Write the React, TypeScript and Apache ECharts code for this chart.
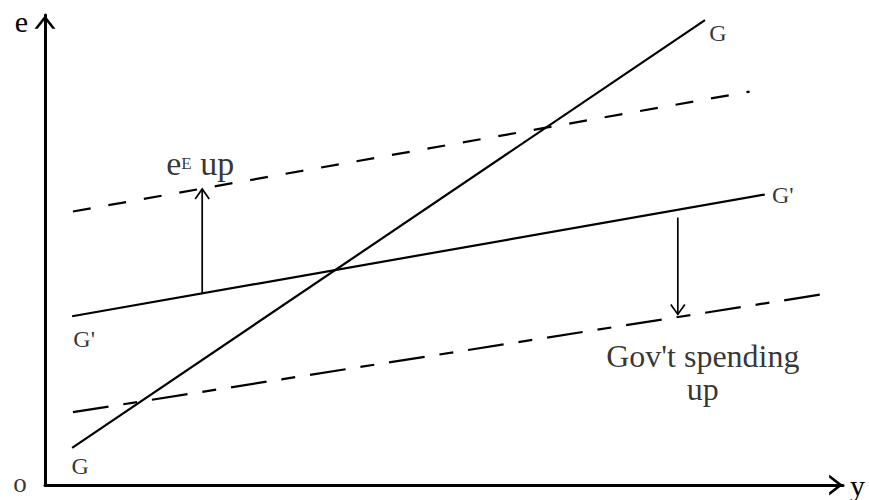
import React, { useEffect, useRef } from 'react';
import * as echarts from 'echarts';

// Curves: [x, y] end points in chart units (x: 0..100 output y, y: 0..100 exchange rate e)
const gCurve = [[3.4, 7.9], [82.7, 98.9]];
const gPrimeCurve = [[3.4, 35.9], [90.2, 61.8]];
const expectUpCurve = [[3.5, 58.2], [88.3, 83.7]];
const spendUpCurve = [[3.5, 15.5], [97.5, 40.6]];
// Shift arrows: [x0, y0, x1, y1]
const expectArrow = [19.7, 40.8, 19.7, 63.0];
const spendArrow = [79.3, 56.9, 79.3, 36.3];
const origin = [0, 0];

const xAxisName = 'y';
const yAxisName = 'e';
const originLabel = 'o';
const gLabel = 'G';
const gPrimeLabel = "G'";
const expectLabel = '{a|e}{b|E}{a| up}';
const spendLabel = "Gov't spending\nup";

const FONT = '"Liberation Serif", "DejaVu Serif", serif';
const CHEVRON = 'path://M0,13 L10,0 L20,13 L17,13 L10,4 L3,13 Z';

export default function App() {
  const ref = useRef<HTMLDivElement>(null);
  useEffect(() => {
    if (!ref.current) return;
    const chart = echarts.init(ref.current, null, { renderer: 'svg' });
    const axisCommon = {
      type: 'value',
      min: 0,
      max: 100,
      axisLine: {
        show: true,
        symbol: ['none', CHEVRON],
        symbolSize: [21, 14],
        symbolOffset: [0, -7],
        lineStyle: { color: '#000', width: 3 },
      },
      axisTick: { show: false },
      axisLabel: { show: false },
      splitLine: { show: false },
    };
    const lineSeries = (data: number[][], type: any) => ({
      type: 'line',
      data,
      symbol: 'none',
      silent: true,
      lineStyle: { color: '#000', width: 2.2, type },
      z: 3,
    });
    const lbl = (value: number[], formatter: string, offset: number[], extra: any = {}) => ({
      value,
      label: { formatter, offset, ...extra },
    });
    chart.setOption({
      animation: false,
      backgroundColor: '#fff',
      grid: { left: 45, right: 26, top: 15, bottom: 14 },
      xAxis: {
        ...axisCommon,
        name: xAxisName,
        nameLocation: 'end',
        nameGap: 7,
        nameTextStyle: { fontFamily: FONT, fontSize: 30, lineHeight: 22, color: '#000', verticalAlign: 'middle', padding: [0, 0, 4, 0] },
      },
      yAxis: {
        ...axisCommon,
        name: yAxisName,
        nameLocation: 'end',
        nameGap: -6,
        nameTextStyle: { fontFamily: FONT, fontSize: 30, color: '#000', align: 'right', verticalAlign: 'middle', padding: [0, 17, 0, 0] },
      },
      series: [
        lineSeries(gCurve, 'solid'),
        lineSeries(gPrimeCurve, 'solid'),
        lineSeries(expectUpCurve, [18, 18]),
        lineSeries(spendUpCurve, [36, 15, 14, 15]),
        {
          type: 'custom',
          coordinateSystem: 'cartesian2d',
          silent: true,
          data: [expectArrow, spendArrow],
          encode: { x: [0, 2], y: [1, 3] },
          renderItem: (params: any, api: any) => {
            const a = api.coord([api.value(0), api.value(1)]);
            const b = api.coord([api.value(2), api.value(3)]);
            const dx = b[0] - a[0];
            const dy = b[1] - a[1];
            const len = Math.hypot(dx, dy) || 1;
            const ux = dx / len;
            const uy = dy / len;
            const hl = 10;
            const hw = 7;
            const left = [b[0] - ux * hl + uy * hw, b[1] - uy * hl - ux * hw];
            const right = [b[0] - ux * hl - uy * hw, b[1] - uy * hl + ux * hw];
            return {
              type: 'group',
              children: [
                { type: 'line', shape: { x1: a[0], y1: a[1], x2: b[0], y2: b[1] }, style: { stroke: '#000', lineWidth: 1.7 } },
                { type: 'polyline', shape: { points: [left, b, right] }, style: { stroke: '#000', fill: 'none', lineWidth: 1.7 } },
              ],
            };
          },
          z: 4,
        },
        {
          type: 'scatter',
          silent: true,
          symbolSize: 1,
          itemStyle: { color: 'rgba(0,0,0,0)' },
          label: {
            show: true,
            position: 'inside',
            color: '#000',
            fontFamily: FONT,
            fontSize: 24,
          },
          data: [
            lbl(gCurve[0], gLabel, [8, 18]),
            lbl(gCurve[1], gLabel, [13, 13]),
            lbl(gPrimeCurve[0], gPrimeLabel, [12, 23]),
            lbl(gPrimeCurve[1], gPrimeLabel, [18, 0]),
            lbl([expectArrow[2], expectArrow[3]], expectLabel, [-2, -25], {
              rich: {
                a: { fontFamily: FONT, fontSize: 34, color: '#000' },
                b: { fontFamily: FONT, fontSize: 17, color: '#000' },
              },
            }),
            lbl([spendArrow[2], spendArrow[3]], spendLabel, [25, 58], { fontSize: 32, lineHeight: 33 }),
            lbl(origin, originLabel, [-25, -2], { fontSize: 27, lineHeight: 18 }),
          ],
          z: 5,
        },
      ],
    });
    return () => chart.dispose();
  }, []);
  return (
    <div
      ref={ref}
      style={{ position: 'fixed', left: 0, top: 0, width: 869, height: 500, background: '#fff' }}
    />
  );
}
